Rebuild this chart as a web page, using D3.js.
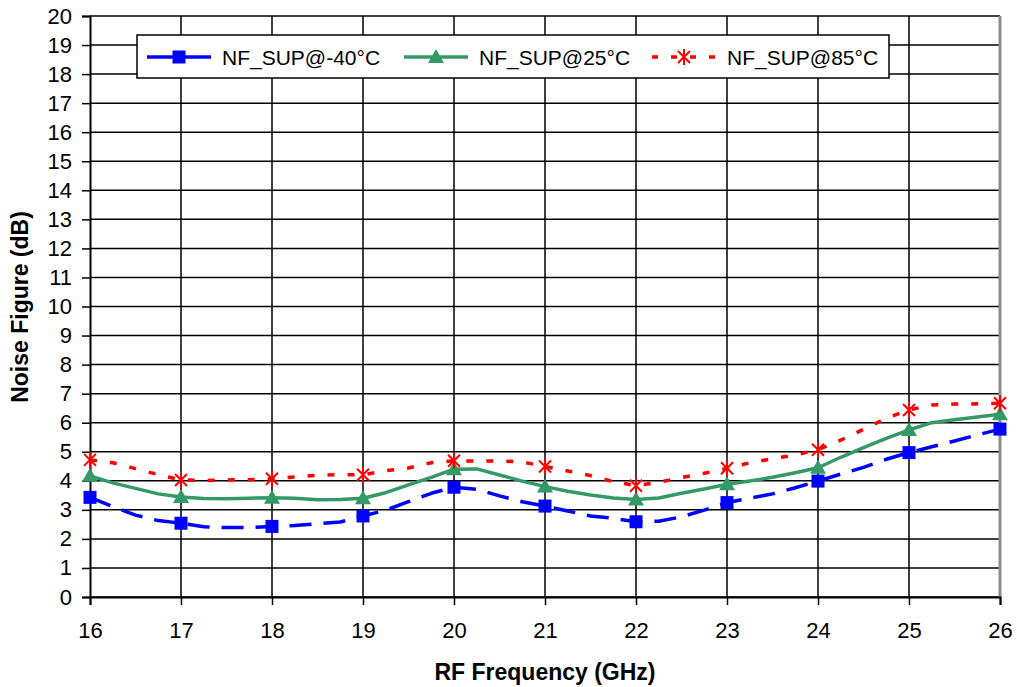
<!DOCTYPE html>
<html>
<head>
<meta charset="utf-8">
<script src="https://cdn.jsdelivr.net/npm/d3@7"></script>
<style>
	body { margin: 0; background: #fff; }
	text { font-family: "Liberation Sans", Arial, sans-serif; fill: #000; }
</style>
</head>
<body>
<svg id="chart" width="1017" height="687"></svg>
<script>
// frequency points (GHz), markers only at the whole GHz
var freq = [16, 16.25, 16.5, 16.75, 17, 17.25, 17.5, 17.75, 18, 18.25, 18.5, 18.75,
	19, 19.25, 19.5, 19.75, 20, 20.25, 20.5, 20.75, 21, 21.25, 21.5, 21.75,
	22, 22.25, 22.5, 22.75, 23, 23.25, 23.5, 23.75, 24, 24.25, 24.5, 24.75,
	25, 25.25, 25.5, 25.75, 26];

var nfM40 = [3.43, 3.11, 2.82, 2.63, 2.54, 2.42, 2.39, 2.39, 2.43, 2.46, 2.52, 2.58,
	2.79, 2.99, 3.28, 3.57, 3.78, 3.71, 3.48, 3.28, 3.13, 2.96, 2.79, 2.71,
	2.59, 2.61, 2.76, 2.99, 3.25, 3.40, 3.55, 3.76, 3.99, 4.23, 4.46, 4.74,
	4.97, 5.17, 5.37, 5.58, 5.78];

var nf25 = [4.17, 3.93, 3.74, 3.55, 3.44, 3.39, 3.38, 3.40, 3.42, 3.40, 3.35, 3.36,
	3.40, 3.59, 3.86, 4.12, 4.40, 4.41, 4.20, 3.99, 3.80, 3.64, 3.51, 3.41,
	3.36, 3.41, 3.57, 3.72, 3.88, 3.99, 4.12, 4.28, 4.45, 4.81, 5.14, 5.46,
	5.75, 6.00, 6.10, 6.20, 6.29];

var nf85 = [4.72, 4.62, 4.42, 4.21, 4.03, 4.01, 4.03, 4.04, 4.07, 4.13, 4.19, 4.21,
	4.21, 4.35, 4.44, 4.62, 4.69, 4.68, 4.68, 4.65, 4.49, 4.34, 4.18, 3.97,
	3.83, 3.95, 4.11, 4.26, 4.43, 4.62, 4.76, 4.89, 5.07, 5.40, 5.77, 6.15,
	6.44, 6.61, 6.64, 6.65, 6.67];

var xTicks = [16, 17, 18, 19, 20, 21, 22, 23, 24, 25, 26];
var yTicks = d3.range(0, 21);

var seriesNames = ["NF_SUP@-40°C", "NF_SUP@25°C", "NF_SUP@85°C"];

var series = [
	{ name: seriesNames[0], values: nfM40, color: "#0000ff", dash: "22,12", width: 3.5, marker: "square" },
	{ name: seriesNames[1], values: nf25, color: "#339966", dash: null, width: 3.5, marker: "triangle" },
	{ name: seriesNames[2], values: nf85, color: "#ff0000", dash: "7,13", width: 3.5, marker: "star" }
];

var svg = d3.select("#chart");

var x = d3.scaleLinear().domain([16, 26]).range([90, 1000]);
var y = d3.scaleLinear().domain([0, 20]).range([597, 16]);

// grid
var grid = svg.append("g").attr("class", "grid");

	grid.selectAll("line.h")
		.data(yTicks)
		.enter().append("line")
		.attr("class", "h")
		.attr("x1", x(16)).attr("x2", x(26))
		.attr("y1", function(d){return y(d);})
		.attr("y2", function(d){return y(d);})
		.attr("stroke", "#000")
		.attr("stroke-width", 1.5);

	grid.selectAll("line.v")
		.data(xTicks.slice(1, -1))
		.enter().append("line")
		.attr("class", "v")
		.attr("x1", function(d){return x(d);})
		.attr("x2", function(d){return x(d);})
		.attr("y1", y(0)).attr("y2", y(20))
		.attr("stroke", "#000")
		.attr("stroke-width", 1.5);

	// right border of plot area (grey)
	grid.append("line")
		.attr("x1", x(26)).attr("x2", x(26))
		.attr("y1", y(0)).attr("y2", y(20))
		.attr("stroke", "#8c8c8c")
		.attr("stroke-width", 3);

// axes
var yAxis = d3.axisLeft(y).tickValues(yTicks).tickSize(8).tickPadding(10).tickFormat(d3.format("d"));
var xAxis = d3.axisBottom(x).tickValues(xTicks).tickSize(8).tickPadding(17).tickFormat(d3.format("d"));

var gy = svg.append("g")
	.attr("transform", "translate(" + x(16) + ",0)")
	.call(yAxis);

var gx = svg.append("g")
	.attr("transform", "translate(0," + y(0) + ")")
	.call(xAxis);

[gx, gy].forEach(function(g) {
	g.select(".domain").attr("stroke", "#000").attr("stroke-width", 2);
	g.selectAll(".tick line").attr("stroke", "#000").attr("stroke-width", 1.5);
	g.selectAll(".tick text")
		.style("font-family", "'Liberation Sans', Arial, sans-serif")
		.style("font-size", "22px")
		.attr("fill", "#000");
});
gy.selectAll(".tick text").attr("x", -18);

// axis titles
svg.append("text")
	.attr("x", 545)
	.attr("y", 680)
	.attr("text-anchor", "middle")
	.style("font-size", "23px")
	.style("font-weight", "bold")
	.text("RF Frequency (GHz)");

svg.append("text")
	.attr("transform", "translate(28,307) rotate(-90)")
	.attr("text-anchor", "middle")
	.style("font-size", "23px")
	.style("font-weight", "bold")
	.text("Noise Figure (dB)");

// markers
function drawMarker(g, type, color) {
	if (type == "square") {
		g.append("rect")
			.attr("x", -6.5).attr("y", -6.5)
			.attr("width", 13).attr("height", 13)
			.attr("fill", color);
	} else if (type == "triangle") {
		g.append("path")
			.attr("d", "M0,-8L8,6L-8,6Z")
			.attr("fill", color);
	} else {
		g.append("path")
			.attr("d", "M-6,-6L6,6M-6,6L6,-6M0,-8L0,8")
			.attr("stroke", color)
			.attr("stroke-width", 2)
			.attr("fill", "none");
	}
}

var line = d3.line()
	.x(function(d){return x(d.f);})
	.y(function(d){return y(d.v);});

series.forEach(function(s) {
	var pts = freq.map(function(f, i){return {f: f, v: s.values[i]};});

	var g = svg.append("g").attr("class", "series");

	g.append("path")
		.datum(pts)
		.attr("d", line)
		.attr("fill", "none")
		.attr("stroke", s.color)
		.attr("stroke-width", s.width)
		.attr("stroke-dasharray", s.dash)
		.attr("stroke-linejoin", "round");

	g.selectAll("g.mk")
		.data(pts.filter(function(d){return Number.isInteger(d.f);}))
		.enter().append("g")
		.attr("class", "mk")
		.attr("transform", function(d){return "translate(" + x(d.f) + "," + y(d.v) + ")";})
		.each(function(d){drawMarker(d3.select(this), s.marker, s.color);});
});

// legend
var legend = svg.append("g").attr("class", "legend");

	legend.append("rect")
		.attr("x", 137).attr("y", 35)
		.attr("width", 752).attr("height", 43)
		.attr("fill", "#fff")
		.attr("stroke", "#000")
		.attr("stroke-width", 1.5);

var legendX = [147, 404, 652];

series.forEach(function(s, i) {
	var item = legend.append("g")
		.attr("transform", "translate(" + legendX[i] + ",57)");

	item.append("line")
		.attr("x1", 0).attr("x2", 64)
		.attr("stroke", s.color)
		.attr("stroke-width", s.width)
		.attr("stroke-dasharray", s.marker == "star" ? "6,13" : null);

	var mk = item.append("g").attr("transform", "translate(32,0)");
	drawMarker(mk, s.marker, s.color);

	item.append("text")
		.attr("x", 75)
		.attr("y", 8)
		.style("font-size", "21px")
		.text(s.name);
});
</script>
</body>
</html>
